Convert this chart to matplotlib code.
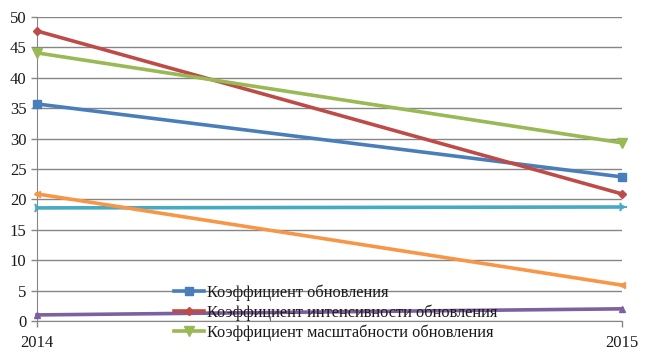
import matplotlib.pyplot as plt

years = [2014, 2015]
labels = ["Коэффициент обновления",
          "Коэффициент интенсивности обновления",
          "Коэффициент масштабности обновления"]
obnov = [35.7, 23.7]
intens = [47.7, 20.9]
masht = [44.1, 29.3]
s4 = [18.6, 18.75]
s5 = [20.9, 5.9]
s6 = [1.0, 2.0]

plt.rcParams['font.family'] = ['Liberation Serif', 'DejaVu Serif']

fig = plt.figure(figsize=(6.5, 3.55), dpi=100)
ax = fig.add_axes([37/650, 34/355, (622-37)/650, (321-17)/355])

lw = 2.6
ax.plot(years, obnov, color='#4A7EBB', lw=lw, marker='s', ms=6, label=labels[0], clip_on=False, zorder=3)
ax.plot(years, intens, color='#BE4B48', lw=lw, marker='D', ms=4.5, label=labels[1], clip_on=False, zorder=3)
ax.plot(years, masht, color='#98B954', lw=lw, marker='v', ms=7, label=labels[2], clip_on=False, zorder=3)
ax.plot(years, s4, color='#46AAC5', lw=lw, marker='4', ms=7, mew=1.5, clip_on=False, zorder=3)
ax.plot(years, s5, color='#F79646', lw=lw, marker='<', ms=5, clip_on=False, zorder=3)
ax.plot(years, s6, color='#7D60A0', lw=lw, marker='^', ms=5, clip_on=False, zorder=3)

ax.set_xlim(2014, 2015)
ax.set_ylim(0, 50)
ax.set_yticks(range(0, 51, 5))
ax.set_xticks(years)
ax.set_xticklabels([str(y) for y in years])
ax.grid(axis='y', color='#868686', lw=1)
ax.set_axisbelow(True)
for s in ['top', 'right']:
    ax.spines[s].set_visible(False)
ax.spines['left'].set_color('#868686')
ax.spines['bottom'].set_color('#868686')
ax.tick_params(axis='both', colors='#868686', labelcolor='#1a1a1a', labelsize=12, length=4, width=1)
ax.tick_params(axis='x', pad=6)

leg = ax.legend(loc='upper left', bbox_to_anchor=(166/650, 1 - 276/355), bbox_transform=fig.transFigure,
                frameon=False, fontsize=11.8, handlelength=1.8, handletextpad=0.2,
                labelspacing=0.22, borderpad=0)
for t in leg.get_texts():
    t.set_color('#1a1a1a')

fig.savefig('out.png', dpi=100)
